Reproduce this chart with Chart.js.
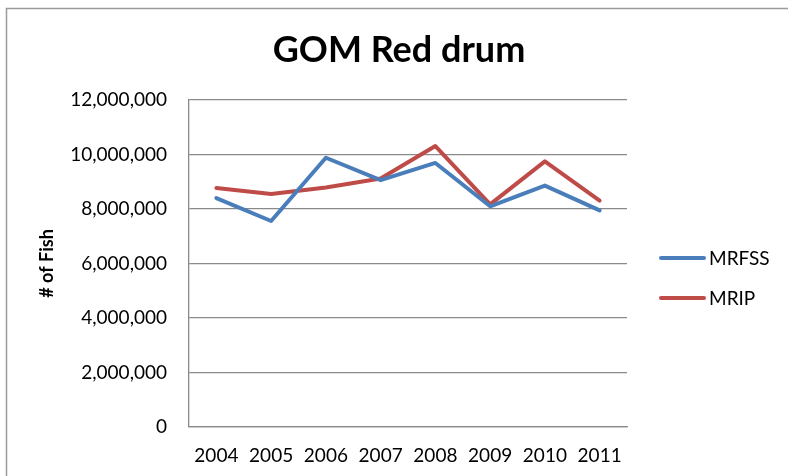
<!DOCTYPE html>
<html>
<head>
<meta charset="utf-8">
<script src="https://cdn.jsdelivr.net/npm/chart.js@4/dist/chart.umd.min.js"></script>
<style>
  html, body { margin: 0; padding: 0; background: #fff; }
  #wrap { position: relative; width: 788px; height: 476px; }
</style>
</head>
<body>
<div id="wrap"><canvas id="chart" width="788" height="476"></canvas></div>
<script>
// Annual catch estimates, Gulf of Mexico red drum
const years = ['2004', '2005', '2006', '2007', '2008', '2009', '2010', '2011'];
const mrfss = [8400000, 7560000, 9880000, 9060000, 9690000, 8100000, 8860000, 7950000];
const mrip  = [8770000, 8550000, 8790000, 9120000, 10310000, 8170000, 9750000, 8310000];
const seriesNames = ['MRFSS', 'MRIP'];
const yTicks = [0, 2000000, 4000000, 6000000, 8000000, 10000000, 12000000];

const FONT = 'Lato, "Open Sans", sans-serif';
const GRID = '#8a8a8a';

// outer frame of the chart object
const framePlugin = {
  id: 'frame',
  beforeDraw(chart) {
    const ctx = chart.ctx;
    ctx.save();
    ctx.fillStyle = '#fff';
    ctx.fillRect(0, 0, chart.width, chart.height);
    ctx.strokeStyle = '#9a9a9a';
    ctx.lineWidth = 1.5;
    ctx.strokeRect(6.5, 8.5, chart.width + 20, chart.height + 20);
    ctx.restore();
  }
};

// line-sample legend on the right, built from the datasets
const sideLegend = {
  id: 'sideLegend',
  afterDraw(chart) {
    const ctx = chart.ctx;
    ctx.save();
    chart.data.datasets.forEach((ds, i) => {
      const y = 258 + i * 40;
      ctx.strokeStyle = ds.borderColor;
      ctx.lineWidth = 4;
      ctx.lineCap = 'round';
      ctx.beginPath();
      ctx.moveTo(661, y);
      ctx.lineTo(704, y);
      ctx.stroke();
      ctx.fillStyle = '#000';
      ctx.font = '19px ' + FONT;
      ctx.textBaseline = 'middle';
      ctx.textAlign = 'left';
      ctx.fillText(ds.label, 709, y + 1);
    });
    ctx.restore();
  }
};

new Chart(document.getElementById('chart'), {
  type: 'line',
  data: {
    labels: years,
    datasets: [
      { label: seriesNames[0], data: mrfss, borderColor: '#4a7ebb', backgroundColor: '#4a7ebb',
        borderWidth: 4, pointRadius: 0, tension: 0, borderJoinStyle: 'round', borderCapStyle: 'round' },
      { label: seriesNames[1], data: mrip, borderColor: '#be4b48', backgroundColor: '#be4b48',
        borderWidth: 4, pointRadius: 0, tension: 0, borderJoinStyle: 'round', borderCapStyle: 'round' }
    ]
  },
  options: {
    responsive: false,
    animation: false,
    layout: { padding: { top: 10, left: 10, right: 0, bottom: 0 } },
    plugins: {
      legend: { display: false },
      tooltip: { enabled: false },
      title: {
        display: true,
        text: 'GOM Red drum',
        color: '#000',
        font: { family: FONT, size: 36, weight: 'bold', lineHeight: 1.2 },
        padding: { top: 18.4, bottom: 28.4 }
      }
    },
    scales: {
      x: {
        offset: true,
        grid: { display: false, drawTicks: false },
        border: { display: true, color: GRID, width: 1.3 },
        ticks: { color: '#000', font: { family: FONT, size: 19 }, padding: 17, maxRotation: 0, autoSkip: false },
        afterFit(scale) { scale.height = 49; }
      },
      y: {
        min: 0,
        max: 12000000,
        afterBuildTicks(scale) { scale.ticks = yTicks.map(v => ({ value: v })); },
        grid: { color: GRID, lineWidth: 1.3, drawTicks: false },
        border: { display: true, color: GRID, width: 1.3 },
        ticks: {
          color: '#000',
          font: { family: FONT, size: 19 },
          padding: 22,
          callback: v => Number(v).toLocaleString('en-US')
        },
        title: {
          display: true,
          text: '# of Fish',
          color: '#000',
          font: { family: FONT, size: 18, weight: 'bold', lineHeight: 1.2 },
          padding: { top: 26, bottom: 0 }
        },
        afterFit(scale) { scale.width = 179; }
      },
      // empty right-hand band that holds the legend
      side: {
        type: 'linear',
        position: 'right',
        grid: { display: false, drawTicks: false },
        border: { display: false },
        ticks: { display: false },
        afterFit(scale) { scale.width = 161; }
      }
    }
  },
  plugins: [framePlugin, sideLegend]
});
</script>
</body>
</html>
